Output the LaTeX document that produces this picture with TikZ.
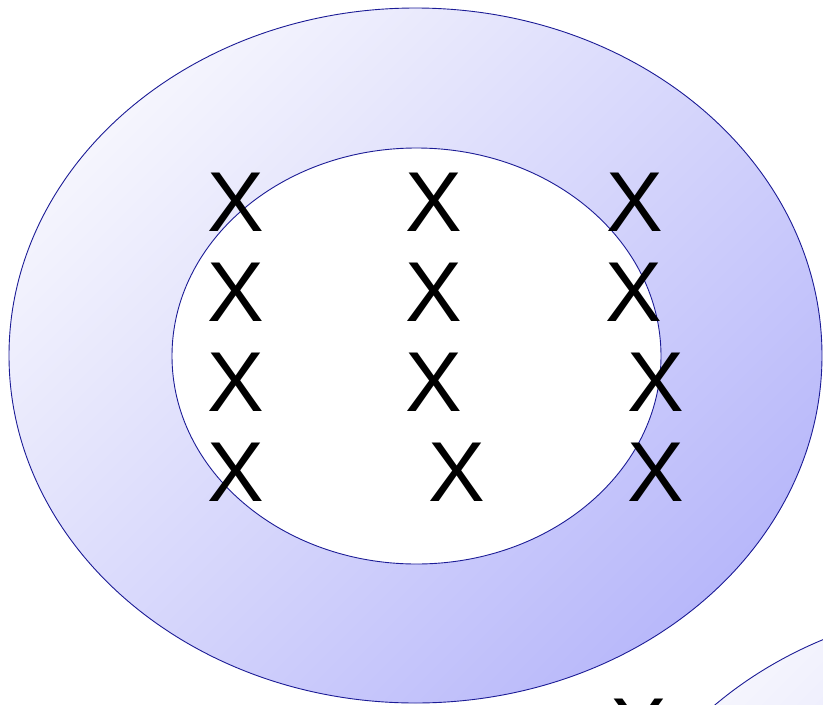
\documentclass[tikz,border=0pt]{standalone}
\usepackage{fontspec}
\setmainfont{Liberation Sans}
\definecolor{ringlight}{RGB}{245,245,253}
\definecolor{ringdark}{RGB}{184,184,250}
\definecolor{ringline}{RGB}{28,28,150}
\begin{document}
\begin{tikzpicture}[x=1pt,y=-1pt,
  ring/.style={draw=ringline,line width=0.9pt},
  mark x/.style={inner sep=0pt,outer sep=0pt,font=\fontsize{85}{85}\selectfont,text=black}]
\useasboundingbox (0,0) rectangle (823,705);
\clip (0,0) rectangle (823,705);
% outer ring
\shade[ring,top color=ringlight,bottom color=ringdark,shading angle=45]
  (415.5,355.5) ellipse [x radius=406.5,y radius=347.5];
\filldraw[ring,fill=white] (416.5,356) ellipse [x radius=244.5,y radius=208];
% partial ellipse at bottom right
\shade[ring,top color=ringlight,bottom color=ringdark,shading angle=45]
  (1000,952) ellipse [x radius=406,y radius=347];
% X marks
\node[mark x] (x11) at (236,202) {X};
\node[mark x] (x12) at (434,202) {X};
\node[mark x] (x13) at (635,202) {X};
\node[mark x] (x21) at (236,292) {X};
\node[mark x] (x22) at (434,292) {X};
\node[mark x] (x23) at (634,292) {X};
\node[mark x] (x31) at (236,382) {X};
\node[mark x] (x32) at (434,382) {X};
\node[mark x] (x33) at (656,382) {X};
\node[mark x] (x41) at (236,472) {X};
\node[mark x] (x42) at (457,472) {X};
\node[mark x] (x43) at (656,472) {X};
\node[mark x] (x51) at (639,728) {X};
\end{tikzpicture}
\end{document}
